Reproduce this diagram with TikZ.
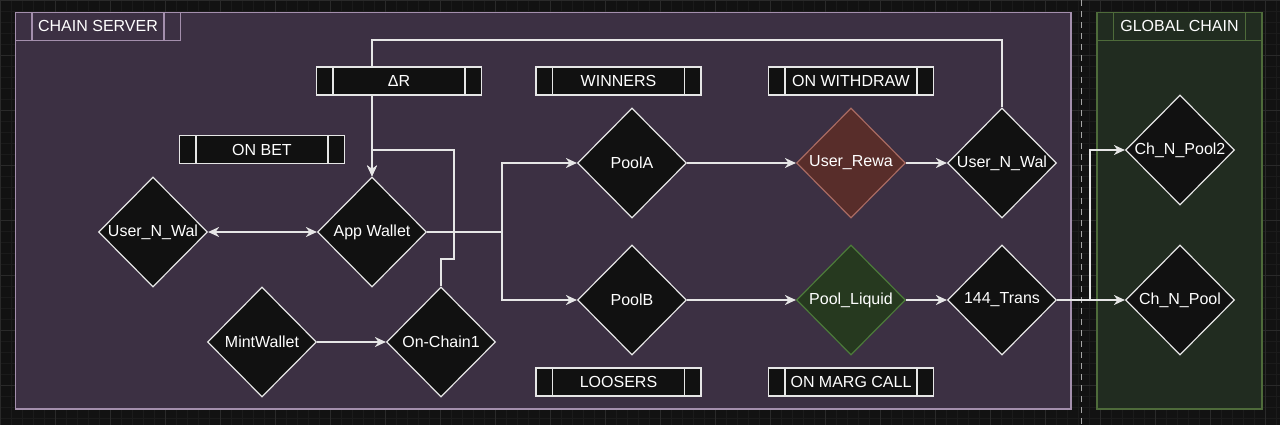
\documentclass[tikz,border=0pt]{standalone}
\usepackage{fontspec}
\setmainfont{Liberation Sans}
\usetikzlibrary{shapes.geometric,arrows.meta}

\definecolor{bgdark}{HTML}{121212}
\definecolor{gridmin}{HTML}{1B1B1B}
\definecolor{gridmaj}{HTML}{2A2A2A}
\definecolor{srvfill}{HTML}{3C3043}
\definecolor{srvline}{HTML}{A48FAD}
\definecolor{glbfill}{HTML}{212C20}
\definecolor{glbline}{HTML}{4E6B3A}
\definecolor{rewfill}{HTML}{582D2A}
\definecolor{rewline}{HTML}{A86A62}
\definecolor{liqfill}{HTML}{26391F}
\definecolor{liqline}{HTML}{4C7A3A}
\definecolor{nodefill}{HTML}{111111}
\definecolor{edge}{HTML}{E6E6E6}

\tikzset{
  wal/.style={diamond,draw=edge,fill=nodefill,line width=1.2pt,text=white,
    minimum width=109pt,minimum height=110pt,inner sep=0pt,
    font=\fontsize{16}{19}\selectfont},
  procbox/.style={rectangle,draw=edge,fill=nodefill,line width=1.2pt,text=white,
    minimum width=165pt,minimum height=28pt,inner sep=0pt,
    font=\fontsize{16}{19}\selectfont,
    path picture={
      \draw[#1,line width=1.2pt] ([xshift=16.5pt]path picture bounding box.north west)
        -- ([xshift=16.5pt]path picture bounding box.south west);
      \draw[#1,line width=1.2pt] ([xshift=-16.5pt]path picture bounding box.north east)
        -- ([xshift=-16.5pt]path picture bounding box.south east);}},
  procbox/.default=edge,
  tip/.tip={Stealth[length=11pt,width=10pt,inset=3.5pt]},
  flow/.style={draw=edge,line width=1.3pt,-tip}
}

\begin{document}
\begin{tikzpicture}[x=1pt,y=-1pt]
  \useasboundingbox[fill=bgdark] (0,0) rectangle (1280,425);
  \draw[gridmin,line width=0.6pt,step=11pt] (0,0) grid (1280,425);
  \draw[gridmaj,line width=0.8pt,step=55pt] (0,0) grid (1280,425);
  \draw[gray!70,line width=1pt,dash pattern=on 6pt off 5pt] (1081,0) -- (1081,425);

  % containers
  \draw[srvline,fill=srvfill,line width=1.3pt] (15.7,12.7) rectangle (1071,409);
  \draw[glbline,fill=glbfill,line width=1.3pt] (1097,12.3) rectangle (1262,409);
  \node[procbox=srvline,draw=srvline,fill=srvfill] (server) at (98,26.4) {CHAIN SERVER};
  \node[procbox=glbline,draw=glbline,fill=glbfill] (global) at (1179.5,26.2) {GLOBAL CHAIN};

  % diamonds
  \node[wal] (uwl) at (153,232) {User\_N\_Wal};
  \node[wal] (app) at (372,232) {App Wallet};
  \node[wal] (mint) at (262,342) {MintWallet};
  \node[wal] (onc) at (441,342) {On-Chain1};
  \node[wal] (poola) at (632,163) {PoolA};
  \node[wal] (poolb) at (632,300) {PoolB};
  \node[wal,draw=rewline,fill=rewfill] (rewa) at (851,163) {User\_Rewa};
  \node[wal,draw=liqline,fill=liqfill] (liq) at (851,300) {Pool\_Liquid};
  \node[wal] (uwr) at (1002,163) {User\_N\_Wal};
  \node[wal] (trans) at (1002,300) {144\_Trans};
  \node[wal] (chp2) at (1180,150) {Ch\_N\_Pool2};
  \node[wal] (chp) at (1180,300) {Ch\_N\_Pool};

  % connectors
  \coordinate (topr) at (1002,40);
  \coordinate (topl) at (372,40);
  \coordinate (jog) at (454,259);
  \coordinate (bend) at (454,150);
  \coordinate (merge) at (372,150);
  \coordinate (split) at (502,232);
  \coordinate (fork) at (1090,300);
  \draw[flow,tip-tip] (uwl.east) -- (app.west);
  \draw[flow] (mint.east) -- (onc.west);
  \draw[flow] (uwr.north) -- (topr) -- (topl) -- (app.north);
  \draw[flow] (onc.north) |- (jog) -- (bend) -- (merge) -- (app.north);
  \draw[flow,-] (app.east) -- (split);
  \draw[flow] (split) |- (poola.west);
  \draw[flow] (split) |- (poolb.west);
  \draw[flow] (poola) -- (rewa);
  \draw[flow] (rewa) -- (uwr);
  \draw[flow] (poolb) -- (liq);
  \draw[flow] (liq) -- (trans);
  \draw[flow] (trans.east) -- (chp.west);
  \draw[flow] (fork) |- (chp2.west);

  % labels
  \node[procbox] (delta) at (399,81) {ΔR};
  \node[procbox] (onbet) at (262,149.7) {ON BET};
  \node[procbox] (winners) at (618.5,81) {WINNERS};
  \node[procbox] (withdraw) at (851,81) {ON WITHDRAW};
  \node[procbox] (loosers) at (618.5,382) {LOOSERS};
  \node[procbox] (margcall) at (851,382) {ON MARG CALL};
\end{tikzpicture}
\end{document}
